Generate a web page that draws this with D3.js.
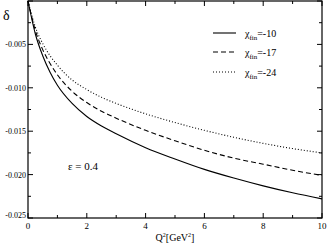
<!DOCTYPE html>
<html lang="en">
<head>
  <meta charset="UTF-8" />
  <script src="https://d3js.org/d3.v7.min.js"></script>
  <style>
    body { margin: 0; background: #fff; }
    svg { display: block; font-family: 'Liberation Serif', 'DejaVu Serif', serif; }
  </style>
</head>
<body>
  <svg width="327" height="245"></svg>
  <script>
    const q2 = [0, 0.25, 0.5, 0.75, 1, 1.5, 2, 2.5, 3, 4, 5, 6, 7, 8, 9, 10];
    const chi10 = [0, -0.0038, -0.0063, -0.0082, -0.0097, -0.0118, -0.0133, -0.0144, -0.0153, -0.0169, -0.0182, -0.0194, -0.0204, -0.0213, -0.0221, -0.0228];
    const chi17 = [0, -0.0034, -0.0056, -0.0072, -0.0085, -0.0104, -0.0117, -0.0127, -0.0135, -0.0149, -0.0161, -0.0172, -0.0181, -0.0188, -0.0195, -0.0201];
    const chi24 = [0, -0.0030, -0.0049, -0.0063, -0.0074, -0.0091, -0.0102, -0.0111, -0.0118, -0.0130, -0.0140, -0.0149, -0.0157, -0.0164, -0.0170, -0.0175];
    const seriesNames = ["-10", "-17", "-24"];
    const xTicks = [0, 2, 4, 6, 8, 10];
    const yTicks = [0, -0.005, -0.010, -0.015, -0.020, -0.025];
    const yTickLabels = ["", "-0.005", "-0.010", "-0.015", "-0.020", "-0.025"];

    const svg = d3.select("svg");
    const pLeft = 28, pRight = 322, pTop = 1, pBottom = 218;

    const x = d3.scaleLinear().domain([0, 10]).range([pLeft, pRight]);
    const y = d3.scaleLinear().domain([0, -0.025]).range([pTop, pBottom]);

    const series = [
      { name: seriesNames[0], vals: chi10, dash: null },
      { name: seriesNames[1], vals: chi17, dash: "5,3" },
      { name: seriesNames[2], vals: chi24, dash: "1,2" }
    ];

    const line = d3.line()
      .x((d, i) => x(q2[i]))
      .y(d => y(d))
      .curve(d3.curveMonotoneX);

    series.forEach(s => {
      svg.append("path")
        .attr("d", line(s.vals))
        .attr("fill", "none")
        .attr("stroke", "#000")
        .attr("stroke-width", 1.1)
        .attr("stroke-dasharray", s.dash);
    });

    // frame
    svg.append("rect")
      .attr("x", pLeft).attr("y", pTop)
      .attr("width", pRight - pLeft).attr("height", pBottom - pTop)
      .attr("fill", "none").attr("stroke", "#000").attr("stroke-width", 1.2);

    // ticks, inward on all four sides
    const g = svg.append("g").attr("stroke", "#000").attr("stroke-width", 1);
    d3.range(0, 11).forEach(v => {
      const len = v % 2 === 0 ? 5 : 3;
      g.append("line").attr("x1", x(v)).attr("x2", x(v)).attr("y1", pBottom).attr("y2", pBottom - len);
      g.append("line").attr("x1", x(v)).attr("x2", x(v)).attr("y1", pTop).attr("y2", pTop + len);
    });
    d3.range(0, 11).forEach(k => {
      const v = -0.0025 * k;
      const len = k % 2 === 0 ? 5 : 3;
      g.append("line").attr("y1", y(v)).attr("y2", y(v)).attr("x1", pLeft).attr("x2", pLeft + len);
      g.append("line").attr("y1", y(v)).attr("y2", y(v)).attr("x1", pRight).attr("x2", pRight - len);
    });

    svg.selectAll(".xl").data(xTicks).enter().append("text")
      .attr("x", d => x(d)).attr("y", 229)
      .attr("text-anchor", "middle").attr("font-size", 9)
      .text(d => d);

    svg.selectAll(".yl").data(yTicks).enter().append("text")
      .attr("x", 26).attr("y", (d, i) => y(d) + (i === yTicks.length - 1 ? 0 : 3))
      .attr("text-anchor", "end").attr("font-size", 8)
      .text((d, i) => yTickLabels[i]);

    // axis titles
    const xt = svg.append("text").attr("x", 175).attr("y", 241)
      .attr("text-anchor", "middle").attr("font-size", 10);
    xt.append("tspan").text("Q");
    xt.append("tspan").attr("dy", -4).attr("font-size", 6).text("2");
    xt.append("tspan").attr("dy", 4).text("[GeV");
    xt.append("tspan").attr("dy", -4).attr("font-size", 6).text("2");
    xt.append("tspan").attr("dy", 4).text("]");

    svg.append("text").attr("x", 3).attr("y", 20)
      .attr("font-size", 14).text("δ");

    svg.append("text").attr("x", 68).attr("y", 170)
      .attr("font-size", 11).text("ε = 0.4");

    // legend
    const legY = [33, 52, 72];
    series.forEach((s, i) => {
      svg.append("line")
        .attr("x1", 213).attr("x2", 236)
        .attr("y1", legY[i]).attr("y2", legY[i])
        .attr("stroke", "#000").attr("stroke-width", 1.1)
        .attr("stroke-dasharray", s.dash);
      const t = svg.append("text").attr("x", 245).attr("y", legY[i] + 4).attr("font-size", 10);
      t.append("tspan").text("χ");
      t.append("tspan").attr("dy", 3).attr("font-size", 7).text("fin");
      t.append("tspan").attr("dy", -3).text("=" + s.name);
    });
  </script>
</body>
</html>
